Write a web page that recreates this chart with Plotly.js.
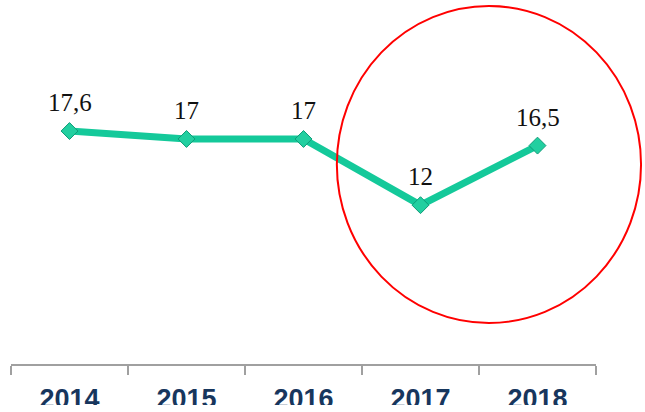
<!DOCTYPE html>
<html>
<head>
<meta charset="utf-8">
<script src="https://cdn.plot.ly/plotly-3.0.1.min.js"></script>
<style>html,body{margin:0;padding:0;background:#fff;}#chart{width:645px;height:412px;}</style>
</head>
<body>
<div id="chart"></div>
<script>
const years = ['2014', '2015', '2016', '2017', '2018'];
const values = [17.6, 17, 17, 12, 16.5];
const labels = values.map(v => String(v).replace('.', ','));

const trace = {
  x: years,
  y: values,
  type: 'scatter',
  mode: 'lines+markers',
  line: {color: '#14C99A', width: 7},
  marker: {symbol: 'diamond', size: 13, color: '#22CFA0', line: {color: '#0E9C78', width: 1}},
  cliponaxis: false,
  hoverinfo: 'skip'
};

const annotations = years.map((yr, i) => ({
  x: i, y: values[i], xref: 'x', yref: 'y',
  text: labels[i], showarrow: false,
  xanchor: 'center', yanchor: 'bottom', yshift: 13,
  font: {family: 'Liberation Serif, Times New Roman, serif', size: 25, color: '#111111'}
}));

const layout = {
  width: 645, height: 412,
  margin: {l: 11, r: 49, t: 0, b: 48},
  paper_bgcolor: '#fff', plot_bgcolor: '#fff',
  showlegend: false,
  xaxis: {
    type: 'category',
    range: [-0.5, 4.5],
    showline: true, linecolor: '#A0A0A0', linewidth: 1.5,
    ticks: 'outside', tickson: 'boundaries', ticklen: 9, tickcolor: '#A0A0A0', tickwidth: 1.5,
    showgrid: false, zeroline: false,
    tickfont: {family: 'Liberation Sans, Arial, sans-serif', size: 27, color: '#17365D', weight: 'bold'},
    ticklabelstandoff: 10
  },
  yaxis: {
    range: [0, 27.5], visible: false, showgrid: false, zeroline: false
  },
  annotations: annotations,
  shapes: [{
    type: 'circle', xref: 'paper', yref: 'paper',
    x0: 0.557, x1: 1.077, y0: 0.1126, y1: 0.9835,
    line: {color: '#FF0000', width: 2}
  }, {
    type: 'rect', xref: 'paper', yref: 'paper', layer: 'above',
    x0: -0.05, x1: 1.1, y0: -0.1126, y1: -0.15,
    fillcolor: '#FFFFFF', line: {width: 0}
  }]
};

Plotly.newPlot('chart', [trace], layout, {staticPlot: true, displayModeBar: false});
</script>
</body>
</html>
